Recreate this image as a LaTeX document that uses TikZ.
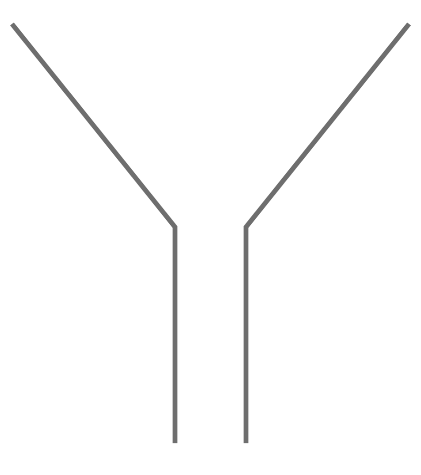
\documentclass[tikz,border=0pt]{standalone}
\definecolor{armgray}{HTML}{6E6E6E}
\begin{document}
\begin{tikzpicture}[x=1pt, y=-1pt, arm/.style={draw=armgray, line width=4.6pt, line join=miter}]
    \useasboundingbox (0,0) rectangle (421,475);
    % left arm
    \coordinate (ltop) at (12,24);
    \coordinate (lbend) at (175,227);
    \coordinate (lfoot) at (175,443);
    % right arm
    \coordinate (rtop) at (409,24);
    \coordinate (rbend) at (246,227);
    \coordinate (rfoot) at (246,443);
    \draw [arm] (ltop) -- (lbend) -- (lfoot);
    \draw [arm] (rtop) -- (rbend) -- (rfoot);
\end{tikzpicture}
\end{document}
